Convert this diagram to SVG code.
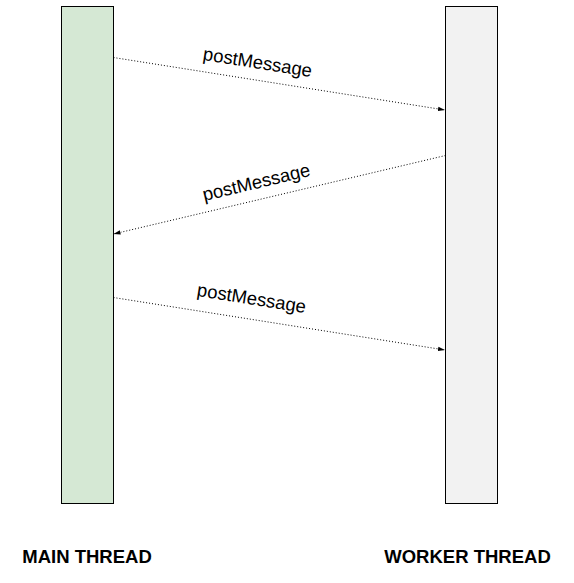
<svg xmlns="http://www.w3.org/2000/svg" width="574" height="583" viewBox="0 0 574 583">
<style>
.lane{stroke:#000;stroke-width:1}
.msg{fill:none;stroke:#000;stroke-width:1;stroke-dasharray:1 2}
.lbl{font-family:"Liberation Sans",Arial,sans-serif;font-size:18.5px;fill:#000;text-anchor:middle}
.title{font-family:"Liberation Sans",Arial,sans-serif;font-size:18.5px;font-weight:bold;fill:#000;text-anchor:middle}
</style>
<defs>
<marker id="ah" markerWidth="7" markerHeight="6" refX="7" refY="3" orient="auto" markerUnits="userSpaceOnUse">
<path d="M0,0.8 L7,3 L0,5.2 Z" fill="#000"/>
</marker>
</defs>
<rect width="574" height="583" fill="#fff"/>
<g id="main-thread">
<rect class="lane" x="61.5" y="6.5" width="52" height="497" fill="#d5e8d4"/>
<text class="title" x="87" y="563">MAIN THREAD</text>
</g>
<g id="worker-thread">
<rect class="lane" x="445.5" y="6.5" width="52" height="497" fill="#f2f2f2"/>
<text class="title" x="467.5" y="563">WORKER THREAD</text>
</g>
<g id="connectors">
<path class="msg" d="M113.5,57.5 L445,110" marker-end="url(#ah)"/>
<path class="msg" d="M445.5,155.5 L113.5,234" marker-end="url(#ah)"/>
<path class="msg" d="M113.5,297.5 L445,350" marker-end="url(#ah)"/>
<text class="lbl" transform="translate(257.5,63) rotate(9)" y="5.5">postMessage</text>
<text class="lbl" transform="translate(256.5,183) rotate(-13.4)" y="5.5">postMessage</text>
<text class="lbl" transform="translate(251.5,299) rotate(9)" y="5.5">postMessage</text>
</g>
</svg>
